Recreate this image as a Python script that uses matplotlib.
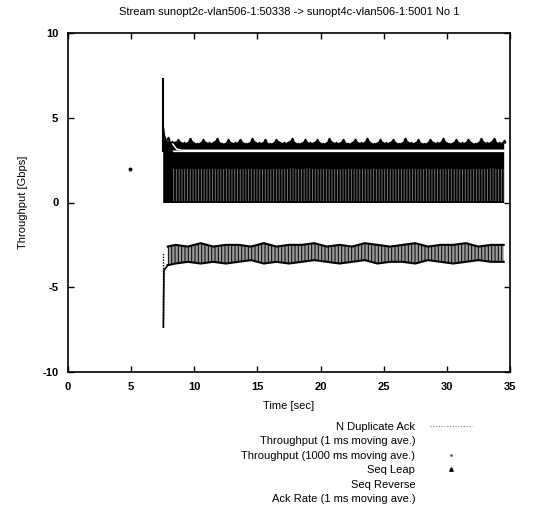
import matplotlib
matplotlib.use('Agg')
import matplotlib.pyplot as plt
from matplotlib.lines import Line2D

plt.rcParams['font.family'] = ['Liberation Sans', 'DejaVu Sans']
plt.rcParams['font.size'] = 8
plt.rcParams['hatch.linewidth'] = 0.7
plt.rcParams['axes.unicode_minus'] = False

# --- data ---
title = 'Stream sunopt2c-vlan506-1:50338 -> sunopt4c-vlan506-1:5001 No 1'

# throughput 1 ms moving ave (black band, top envelope)
tput_t = [7.50, 7.55, 7.65, 7.80, 8.00, 8.30, 34.50]
tput_hi = [7.35, 4.60, 4.00, 3.70, 3.50, 3.00, 3.00]

# throughput 1000 ms moving ave (white line inside the band)
avg_t = [8.3, 8.6, 9.0, 34.5]
avg_v = [3.45, 3.15, 3.08, 3.08]

# seq leap markers, upper bumpy band (peaks about once a second)
leap_t = [7.9, 8.2, 8.7, 9.2, 9.7, 10.2, 10.7, 11.2, 11.8, 12.2, 12.7, 13.2,
          13.6, 14.1, 14.6, 15.1, 15.6, 16.0, 16.5, 17.1, 17.7, 18.2, 18.8,
          19.2, 19.7, 20.2, 20.7, 21.2, 21.8, 22.2, 22.7, 23.2, 23.7, 24.2,
          24.7, 25.2, 25.7, 26.2, 26.7, 27.2, 27.7, 28.2, 28.7, 29.2, 29.7,
          30.2, 30.7, 31.2, 31.7, 32.2, 32.7, 33.2, 33.7, 34.1, 34.5]
leap_hi = [3.80, 3.55, 3.70, 3.50, 3.72, 3.48, 3.68, 3.50, 3.74, 3.47, 3.66,
           3.50, 3.70, 3.48, 3.72, 3.50, 3.66, 3.47, 3.70, 3.50, 3.73, 3.48,
           3.68, 3.50, 3.70, 3.47, 3.72, 3.50, 3.66, 3.48, 3.70, 3.50, 3.74,
           3.47, 3.68, 3.50, 3.70, 3.48, 3.72, 3.50, 3.66, 3.47, 3.70, 3.50,
           3.73, 3.48, 3.68, 3.50, 3.70, 3.47, 3.72, 3.50, 3.75, 3.50, 3.65]

# ack rate 1 ms moving ave (negative band)
ack_t = [7.55, 7.60, 7.70, 7.90, 8.5, 9.5, 10.5, 11.5, 12.5, 13.5, 14.5,
         15.5, 16.5, 17.5, 18.5, 19.5, 20.5, 21.5, 22.5, 23.5, 24.5, 25.5,
         26.5, 27.5, 28.5, 29.5, 30.5, 31.5, 32.5, 33.5, 34.5]
ack_hi = [-3.0, -3.3, -2.8, -2.6, -2.5, -2.6, -2.4, -2.6, -2.5, -2.5, -2.6,
          -2.4, -2.6, -2.5, -2.5, -2.4, -2.6, -2.5, -2.6, -2.4, -2.5, -2.6,
          -2.5, -2.4, -2.6, -2.5, -2.5, -2.4, -2.6, -2.5, -2.5]
ack_lo = [-7.35, -4.0, -3.9, -3.7, -3.6, -3.5, -3.6, -3.5, -3.6, -3.5, -3.4,
          -3.6, -3.5, -3.6, -3.5, -3.4, -3.5, -3.6, -3.5, -3.4, -3.6, -3.5,
          -3.5, -3.6, -3.4, -3.5, -3.6, -3.5, -3.4, -3.5, -3.5]

# stray point before the transfer starts
dot_t = [4.9]
dot_v = [2.0]

legend_labels = ['N Duplicate Ack', 'Throughput (1 ms moving ave.)',
                 'Throughput (1000 ms moving ave.)', 'Seq Leap',
                 'Seq Reverse', 'Ack Rate (1 ms moving ave.)']

# --- figure ---
fig = plt.figure(figsize=(5.58, 5.08), dpi=100)
ax = fig.add_axes([68 / 558, 1 - 372 / 508, (510 - 68) / 558, (372 - 33) / 508])

# positive side
ax.fill_between(tput_t, 0, tput_hi, color='black', lw=0)
ax.fill_between(tput_t[-2:], 0.1, 2.0, facecolor='none', edgecolor='#707070',
                hatch='||||||', lw=0)
ax.fill_between(leap_t, 3.1, leap_hi, color='black', lw=0)
ax.plot(leap_t, leap_hi, ls='none', marker='^', ms=2, color='black')
ax.plot(avg_t, avg_v, color='white', lw=1.1)
ax.vlines(tput_t[0], 3.0, tput_hi[0], color='black', lw=1.5)

# negative side
ax.fill_between(ack_t[3:], ack_lo[3:], ack_hi[3:], facecolor='#9a9a9a',
                edgecolor='black', hatch='|||||', lw=0)
ax.plot(ack_t[3:], ack_hi[3:], color='black', lw=1.5)
ax.plot(ack_t[3:], ack_lo[3:], color='black', lw=1.5)
ax.vlines(ack_t[0], ack_lo[0], ack_hi[0], color='black', lw=1.0,
          linestyles=(0, (1, 1)))
ax.plot(ack_t[:4], ack_lo[:4], color='black', lw=1.2)

ax.plot(dot_t, dot_v, ls='none', marker='o', ms=1.8, color='black')

ax.set_xlim(0, 35)
ax.set_ylim(-10, 10)
ax.set_xticks([0, 5, 10, 15, 20, 25, 30, 35])
ax.set_yticks([-10, -5, 0, 5, 10])
ax.tick_params(direction='in', top=True, right=True, length=4, width=1,
               labelsize=8, pad=7)
for lab in ax.get_xticklabels() + ax.get_yticklabels():
    lab.set_fontweight('bold')
for s in ax.spines.values():
    s.set_linewidth(1.2)

ax.set_title(title, fontsize=8, pad=13)
ax.set_xlabel('Time [sec]', fontsize=8, labelpad=7)
ax.set_ylabel('Throughput [Gbps]', fontsize=8, labelpad=10)

handles = [
    Line2D([], [], color='#888888', lw=0.8, ls=(0, (1, 1.5))),
    Line2D([], [], color='white', lw=0.8),
    Line2D([], [], color='#666666', ls='none', marker='.', ms=2),
    Line2D([], [], color='black', ls='none', marker='^', ms=2.5),
    Line2D([], [], color='white', lw=0.8),
    Line2D([], [], color='white', lw=0.8),
]
fig.legend(handles, legend_labels, loc='upper right',
           bbox_to_anchor=(472 / 558, 1 - 422 / 508), frameon=False,
           markerfirst=False, fontsize=8, handlelength=3.8,
           handletextpad=1.3, labelspacing=0.4, borderpad=0,
           borderaxespad=0)

fig.savefig('out.png', dpi=100)
